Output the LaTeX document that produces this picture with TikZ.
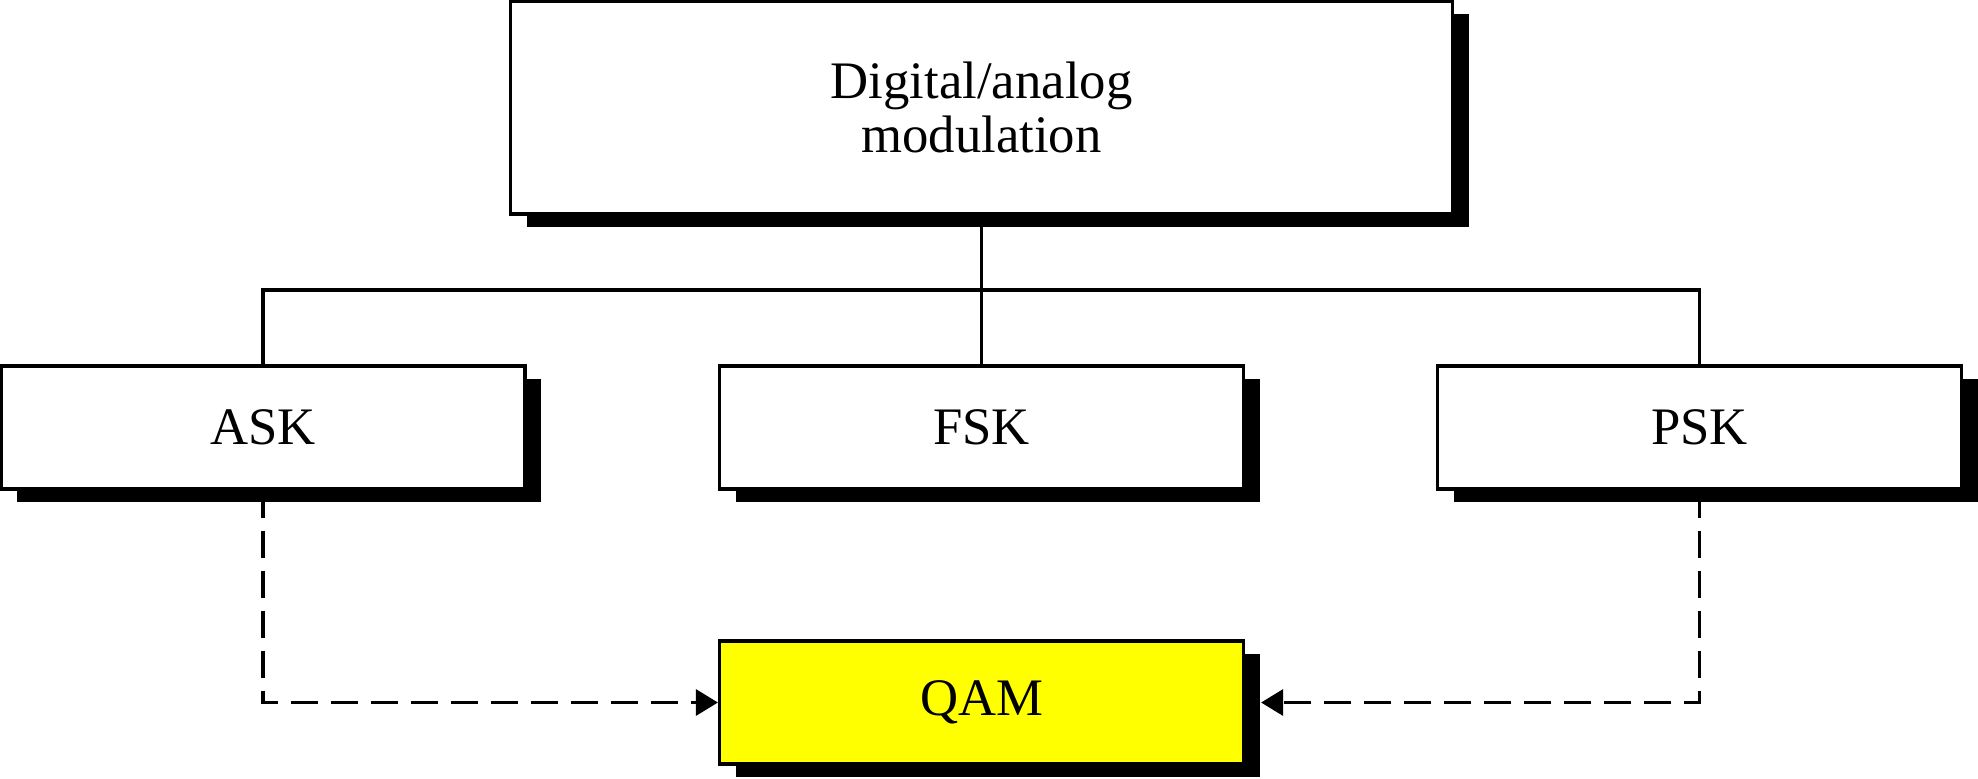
\documentclass[tikz,border=0pt]{standalone}
\usepackage{fontspec}
\setmainfont{Liberation Serif}
\usepackage{tikz}
\usetikzlibrary{arrows.meta,positioning,shadows}
\definecolor{QamYellow}{HTML}{FFFF00}

\tikzset{
  modbox/.style={draw=black, line width=0.9pt, fill=white, inner sep=0pt,
    minimum width=5.24cm, minimum height=1.23cm, align=center,
    drop shadow={shadow xshift=0.16cm, shadow yshift=-0.13cm, fill=black, opacity=1}},
  tree/.style={line width=0.9pt},
  derive/.style={line width=0.9pt, dash pattern=on 0.27cm off 0.13cm,
    -{Triangle[length=0.22cm, width=0.26cm]}}
}

\begin{document}
\begin{tikzpicture}[every node/.style={font=\fontsize{15}{15.6}\selectfont}]
  \useasboundingbox (0,0) rectangle (19.78,7.78);
  \node[modbox, minimum width=9.42cm, minimum height=2.13cm] (top) at (9.815,6.705) {Digital/analog\\modulation};
  \node[modbox] (ask) at (2.63,3.505) {ASK};
  \node[modbox] (fsk) at (9.815,3.505) {FSK};
  \node[modbox] (psk) at (16.995,3.505) {PSK};
  \node[modbox, fill=QamYellow] (qam) at (9.815,0.755) {QAM};
  \coordinate (bus) at (9.815,4.88);
  \draw[tree] (top.south) -- (fsk.north);
  \draw[tree] (ask.north) |- (bus) -| (psk.north);
  \draw[derive] (ask.south) |- (qam.west);
  \draw[derive] (psk.south) |- ([xshift=0.16cm]qam.east);
\end{tikzpicture}
\end{document}
